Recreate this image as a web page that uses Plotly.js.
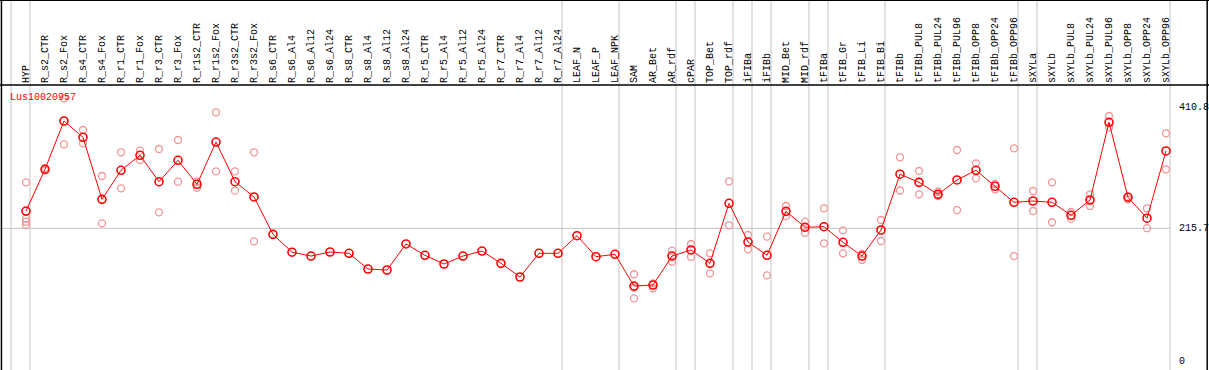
<!DOCTYPE html>
<html>
<head>
<meta charset="utf-8">
<script src="https://cdn.plot.ly/plotly-3.0.1.min.js"></script>
<style>html,body{margin:0;padding:0;background:#fff;}#chart{width:1209px;height:370px;}</style>
</head>
<body>
<div id="chart"></div>
<script>
// ---- data ----
const categories = ["HYP","R_s2_CTR","R_s2_Fox","R_s4_CTR","R_s4_Fox","R_r1_CTR","R_r1_Fox","R_r3_CTR","R_r3_Fox","R_r1s2_CTR","R_r1s2_Fox","R_r3s2_CTR","R_r3s2_Fox","R_s6_CTR","R_s6_Al4","R_s6_Al12","R_s6_Al24","R_s8_CTR","R_s8_Al4","R_s8_Al12","R_s8_Al24","R_r5_CTR","R_r5_Al4","R_r5_Al12","R_r5_Al24","R_r7_CTR","R_r7_Al4","R_r7_Al12","R_r7_Al24","LEAF_N","LEAF_P","LEAF_NPK","SAM","AR_Bet","AR_rdf","cPAR","TOP_Bet","TOP_rdf","iFIBa","iFIBb","MID_Bet","MID_rdf","tFIBa","tFIB_Gr","tFIB_Li","tFIB_Bi","tFIBb","tFIBb_PUL8","tFIBb_PUL24","tFIBb_PUL96","tFIBb_OPP8","tFIBb_OPP24","tFIBb_OPP96","sXYLa","sXYLb","sXYLb_PUL8","sXYLb_PUL24","sXYLb_PUL96","sXYLb_OPP8","sXYLb_OPP24","sXYLb_OPP96"];

const meanValues = [243.7,311.2,389.3,362.9,262.6,309.6,333.8,291.1,325.7,286.9,355.3,291.1,266.4,206.0,177.1,170.9,177.4,175.3,149.9,148.3,190.4,172.1,158.0,170.9,179.0,159.1,137.0,175.3,175.3,203.8,169.8,173.7,122.4,124.0,170.9,180.7,159.1,256.2,193.6,172.1,243.2,217.4,218.3,193.1,170.9,213.0,303.2,290.1,270.7,293.9,309.6,283.7,257.8,259.9,257.8,236.8,261.5,387.2,265.9,232.1,340.8];

const rep1 = [290.1,312.8,426.0,374.7,300.3,338.7,341.3,344.0,358.6,291.1,403.4,307.9,338.7,null,null,null,null,null,null,null,null,null,null,null,null,null,null,null,null,null,null,null,141.4,126.8,179.5,190.4,175.3,291.8,204.9,202.2,251.8,226.4,248.1,212.5,174.2,229.2,330.6,308.4,274.9,342.4,320.9,287.4,345.1,276.1,290.1,242.1,270.7,397.4,266.9,248.1,369.4];
const rep2 = [231.3,309.6,351.6,353.2,223.8,280.4,326.2,241.6,291.1,281.4,307.9,276.6,194.7,null,null,null,null,null,null,null,null,null,null,null,null,null,null,null,null,null,null,null,120.0,118.7,161.7,169.8,143.0,220.6,181.8,139.7,235.6,208.6,191.5,175.3,164.5,195.2,276.9,270.7,268.0,245.3,296.6,278.8,170.9,243.7,225.5,231.3,251.8,379.1,262.6,215.9,311.2];
const rep3 = [226.4,null,null,null,null,null,null,null,null,null,null,null,null,null,null,null,null,null,null,null,null,null,null,null,null,null,null,null,null,null,null,null,102.5,null,null,null,null,null,null,null,null,null,null,null,null,null,null,null,null,null,null,null,null,null,null,null,null,null,null,null,null];
const rep4 = [221.1,null,null,null,null,null,null,null,null,null,null,null,null,null,null,null,null,null,null,null,null,null,null,null,null,null,null,null,null,null,null,null,null,null,null,null,null,null,null,null,null,null,null,null,null,null,null,null,null,null,null,null,null,null,null,null,null,null,null,null,null];

const geneName = "Lus10020957";
const yTickVals = [410.8, 215.7, 0];
const yTickText = ["410.8", "215.7", "0"];
const refLineValue = 215.7;
// last category of each group (separator placed just after it)
const groupEnds = ["HYP","R_r7_Al24","LEAF_NPK","AR_rdf","cPAR","TOP_rdf","iFIBa","iFIBb","MID_rdf","tFIBa","tFIB_Bi","tFIBb_OPP96","sXYLa","sXYLb_OPP96"];

// ---- styling ----
const W = 1209, H = 370;
const mono = "Liberation Mono, DejaVu Sans Mono, monospace";
const headerY = 85;         // px
const sepOffset = 4 / 19;   // separators sit slightly right of the category
const gray = "#c4c4c4";
const repColor = "rgb(240,150,150)";

const traces = [];
[rep1, rep2, rep3, rep4].forEach(function (r) {
  traces.push({
    type: "scatter", mode: "markers", x: categories, y: r,
    marker: {symbol: "circle-open", size: 7, color: repColor, line: {width: 1.3, color: repColor}},
    cliponaxis: false, showlegend: false
  });
});
traces.push({
  type: "scatter", mode: "lines+markers", x: categories, y: meanValues,
  line: {color: "#ff0000", width: 1},
  marker: {symbol: "circle-open", size: 8, color: "#ff0000", line: {width: 1.6, color: "#ff0000"}},
  cliponaxis: false, showlegend: false
});

const shapes = [];
// separator before first category
shapes.push({type: "line", xref: "x", yref: "paper", x0: -1 + sepOffset, x1: -1 + sepOffset, y0: 0, y1: 1, line: {color: gray, width: 1}, layer: "below"});
groupEnds.forEach(function (c) {
  const i = categories.indexOf(c);
  shapes.push({type: "line", xref: "x", yref: "paper", x0: i + sepOffset, x1: i + sepOffset, y0: 0, y1: 1, line: {color: gray, width: 1}, layer: "below"});
});
// reference horizontal line
shapes.push({type: "line", xref: "x", yref: "y", x0: -1.4, x1: categories.length - 1 + sepOffset, y0: refLineValue, y1: refLineValue, line: {color: gray, width: 1}, layer: "below"});
// frame lines
shapes.push({type: "line", xref: "paper", yref: "paper", x0: 0, x1: 1, y0: 1 - headerY / H, y1: 1 - headerY / H, line: {color: "#000", width: 1.5}});
shapes.push({type: "line", xref: "paper", yref: "paper", x0: 0, x1: 1, y0: 0.999, y1: 0.999, line: {color: "#000", width: 1.5}});
shapes.push({type: "line", xref: "paper", yref: "paper", x0: 0.0012, x1: 0.0012, y0: 0, y1: 1, line: {color: "#000", width: 1.5}});
shapes.push({type: "line", xref: "paper", yref: "paper", x0: 0.9985, x1: 0.9985, y0: 0, y1: 1, line: {color: "#000", width: 1.5}});

const annotations = [];
categories.forEach(function (c) {
  annotations.push({
    x: c, xref: "x", y: 1 - 84 / H, yref: "paper", text: c, textangle: -90,
    xanchor: "center", yanchor: "bottom", showarrow: false,
    font: {family: mono, size: 10, color: "#000"}, borderpad: 0
  });
});
yTickVals.forEach(function (v, k) {
  annotations.push({
    x: 1178 / W, xref: "paper", y: v, yref: "y", text: yTickText[k],
    xanchor: "left", yanchor: "middle", showarrow: false,
    font: {family: mono, size: 10, color: "#000"}, borderpad: 0
  });
});
annotations.push({
  x: 9 / W, xref: "paper", y: 1 - 97.5 / H, yref: "paper", text: geneName,
  xanchor: "left", yanchor: "middle", showarrow: false,
  font: {family: mono, size: 10, color: "#ff0000"}, borderpad: 0
});

const layout = {
  width: W, height: H,
  margin: {l: 0, r: 0, t: 0, b: 0, pad: 0},
  paper_bgcolor: "#fff", plot_bgcolor: "#fff",
  showlegend: false,
  xaxis: {type: "category", categoryorder: "array", categoryarray: categories,
          range: [-26 / 19, (W - 26) / 19], showgrid: false, zeroline: false,
          showticklabels: false, ticks: "", showline: false, fixedrange: true},
  yaxis: {range: [-(H - 361.7) / 0.6183, 361.7 / 0.6183], showgrid: false, zeroline: false,
          showticklabels: false, ticks: "", showline: false, fixedrange: true},
  shapes: shapes,
  annotations: annotations
};

Plotly.newPlot("chart", traces, layout, {displayModeBar: false, staticPlot: true});
</script>
</body>
</html>
